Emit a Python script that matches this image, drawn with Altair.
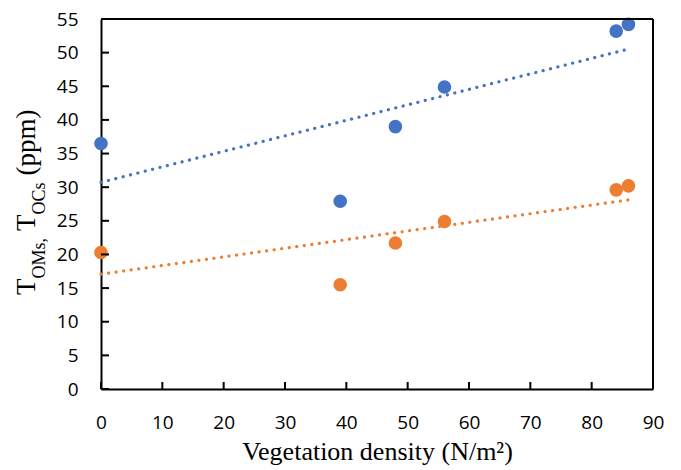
import altair as alt
import pandas as pd

# ---- data ----
density = [0, 39, 48, 56, 84, 86]
t_oms = [36.5, 27.9, 39.0, 44.9, 53.2, 54.2]
t_ocs = [20.3, 15.5, 21.7, 24.9, 29.6, 30.2]
series_names = ["TOMs", "TOCs"]
colors = ["#4472C4", "#ED7D31"]
x_ticks = list(range(0, 91, 10))
y_ticks = list(range(0, 56, 5))
x_title = "Vegetation density (N/m²)"
y_title_parts = ["T", "OMs,", "T", "OCs", "(ppm)"]

W, H = 552, 370
LABEL_FONT = "Open Sans"
TITLE_FONT = "Liberation Serif"

df = pd.DataFrame({
    "x": density * 2,
    "y": t_oms + t_ocs,
    "series": [series_names[0]] * len(density) + [series_names[1]] * len(density),
})
xt_df = pd.DataFrame({"xv": x_ticks})
yt_df = pd.DataFrame({"yv": y_ticks})

xscale = alt.Scale(domain=[0, 90], nice=False, zero=False)
yscale = alt.Scale(domain=[0, 55], nice=False, zero=False)
cscale = alt.Scale(domain=series_names, range=colors)

xaxis = alt.Axis(
    values=x_ticks, tickSize=0, labelPadding=24, grid=False, labelFlush=False,
    domainColor="black", domainWidth=2, labelColor="black",
    labelFont=LABEL_FONT, labelFontSize=19, title=x_title,
    titleFont=TITLE_FONT, titleFontSize=26, titleFontWeight="normal",
    titleColor="black", titlePadding=6)
yaxis = alt.Axis(
    values=y_ticks, tickSize=0, labelPadding=23, grid=False, labelFlush=False,
    domainColor="black", domainWidth=2, labelColor="black",
    labelFont=LABEL_FONT, labelFontSize=19, title=None)

base = alt.Chart(df)

points = base.mark_circle(size=185, opacity=1).encode(
    x=alt.X("x:Q", scale=xscale, axis=xaxis),
    y=alt.Y("y:Q", scale=yscale, axis=yaxis),
    color=alt.Color("series:N", scale=cscale, legend=None),
)

trend = base.transform_calculate(
    ly="log(datum.y)"
).transform_regression(
    "x", "ly", method="linear", groupby=["series"]
).transform_calculate(
    yfit="exp(datum.ly)"
).mark_line(strokeDash=[0.1, 7.5], strokeCap="round", strokeWidth=3.2).encode(
    x=alt.X("x:Q", scale=xscale, axis=None),
    y=alt.Y("yfit:Q", scale=yscale, axis=None),
    color=alt.Color("series:N", scale=cscale, legend=None),
    detail="series:N",
)

# inward-pointing tick marks
ytick = alt.Chart(yt_df).mark_rule(color="black", strokeWidth=2).encode(
    y=alt.Y("yv:Q", scale=yscale, axis=None), x=alt.value(0), x2=alt.value(8)
)
xtick = alt.Chart(xt_df).mark_rule(color="black", strokeWidth=2).encode(
    x=alt.X("xv:Q", scale=xscale, axis=None), y=alt.value(H - 7), y2=alt.value(H)
)

# frame: top and right edges
frame_df = pd.DataFrame({"k": [0]})
top_edge = alt.Chart(frame_df).mark_rule(color="black", strokeWidth=2).encode(
    x=alt.value(0), x2=alt.value(W), y=alt.value(0)
)
right_edge = alt.Chart(frame_df).mark_rule(color="black", strokeWidth=2).encode(
    x=alt.value(W), y=alt.value(0), y2=alt.value(H)
)

# y-axis title assembled from pieces (with subscripts)
big, small = 27, 18
pos = [(-66, 276, big), (-56, 259.5, small), (-66, 212, big), (-56, 195.5, small), (-66, 156.5, big)]
title_layers = []
for part, (px, py, fs) in zip(y_title_parts, pos):
    title_layers.append(
        alt.Chart(pd.DataFrame({"t": [part]})).mark_text(
            angle=270, align="left", baseline="alphabetic",
            font=TITLE_FONT, fontSize=fs, color="black"
        ).encode(text="t:N", x=alt.value(px), y=alt.value(py))
    )

chart = alt.layer(points, trend, xtick, ytick, top_edge, right_edge, *title_layers).resolve_axis(
    x="independent", y="independent"
).properties(
    width=W, height=H,
    autosize=alt.AutoSizeParams(type="none"),
    padding={"left": 93, "top": 11, "right": 20, "bottom": 80},
).configure(background="white").configure_view(stroke="transparent")

chart.save("out.html", embed_options={"renderer": "svg", "actions": False})
